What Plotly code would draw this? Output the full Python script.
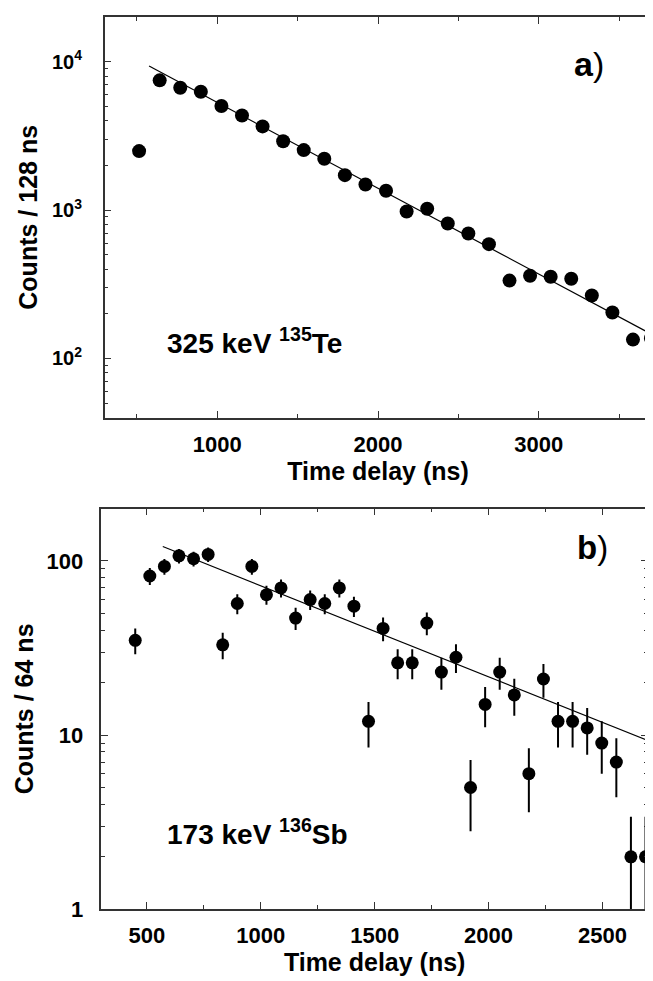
import plotly.graph_objects as go

# ---------------- data: panel a) 325 keV 135Te ----------------
te_time = [514, 642, 770, 898, 1026, 1154, 1282, 1410, 1538, 1666, 1794, 1922, 2050,
           2178, 2306, 2434, 2562, 2690, 2818, 2946, 3074, 3202, 3330, 3458, 3586, 3698]
te_counts = [2500, 7500, 6680, 6280, 5040, 4345, 3670, 2915, 2540, 2223, 1722, 1490, 1350,
             980, 1021, 812, 696, 590, 335, 361, 356, 345, 266, 204, 134, 137]
te_fit_time = [576, 3700]
te_fit_counts = [9360, 146]

# ---------------- data: panel b) 173 keV 136Sb ----------------
sb_time = [449, 513, 577, 641, 705, 769, 833, 897, 961, 1025, 1089, 1153, 1217, 1281,
           1345, 1409, 1473, 1537, 1601, 1665, 1729, 1793, 1857, 1921, 1985, 2049, 2113,
           2177, 2241, 2305, 2369, 2433, 2497, 2561, 2625, 2689]
sb_counts = [35, 82, 93, 107, 103, 109, 33, 57, 93, 64, 70, 47, 60, 57,
             70, 55, 12, 41, 26, 26, 44, 23, 28, 5, 15, 23, 17,
             6, 21, 12, 12, 11, 9, 7, 2, 2]
sb_err = [5.9, 9.1, 9.6, 10.3, 10.1, 10.4, 5.7, 7.5, 9.6, 8.0, 8.4, 6.9, 7.7, 7.5,
          8.4, 7.4, 3.5, 6.4, 5.1, 5.1, 6.6, 4.8, 5.3, 2.2, 3.9, 4.8, 4.1,
          2.4, 4.6, 3.5, 3.5, 3.3, 3.0, 2.6, 1.4, 1.4]
sb_fit_time = [570, 2700]
sb_fit_counts = [121, 9.3]

# tick labels
te_yticks = [100, 1000, 10000]
te_yticktext = ["10<sup>2</sup>", "10<sup>3</sup>", "10<sup>4</sup>"]
sb_yticks = [1, 10, 100]
sb_yticktext = ["1", "10", "100"]

FONT = "Liberation Sans, Arial, sans-serif"
W, H = 653, 981

def px_x(a, b):
    return [a / W, b / W]

def px_y(top, bottom):
    return [1 - bottom / H, 1 - top / H]

te_minor = [m * 10 ** e for e in range(1, 5) for m in range(2, 10)]
sb_minor = [m * 10 ** e for e in range(0, 3) for m in range(2, 10)]

fig = go.Figure()

fig.add_trace(go.Scatter(x=te_fit_time, y=te_fit_counts, mode="lines",
                         line=dict(color="black", width=1.2),
                         xaxis="x", yaxis="y", showlegend=False))
fig.add_trace(go.Scatter(x=te_time, y=te_counts, mode="markers",
                         marker=dict(color="black", size=14),
                         xaxis="x", yaxis="y", showlegend=False))

fig.add_trace(go.Scatter(x=sb_fit_time, y=sb_fit_counts, mode="lines",
                         line=dict(color="black", width=1.2),
                         xaxis="x2", yaxis="y2", showlegend=False))
fig.add_trace(go.Scatter(x=sb_time, y=sb_counts, mode="markers",
                         marker=dict(color="black", size=13),
                         error_y=dict(type="data", array=sb_err, visible=True,
                                      color="black", thickness=2, width=0),
                         xaxis="x2", yaxis="y2", showlegend=False))

axis_common = dict(showgrid=False, zeroline=False, showline=True, linecolor="#333",
                   linewidth=1.5, mirror="allticks", ticks="inside", ticklen=7,
                   tickwidth=1.2, tickcolor="#333",
                   tickfont=dict(family=FONT, size=22, color="black", weight="bold"))

title_font = dict(family=FONT, size=25, color="black", weight="bold")

fig.update_layout(
    width=W, height=H,
    margin=dict(l=0, r=0, t=0, b=0),
    paper_bgcolor="white", plot_bgcolor="white",
    xaxis=dict(axis_common, domain=px_x(96.7, 643.3), anchor="y",
               range=[300, 3700], tickvals=[1000, 2000, 3000],
               minor=dict(ticks="inside", ticklen=4, tickvals=[500, 1500, 2500, 3500],
                          tickcolor="#333", showgrid=False),
               ticklabelstandoff=6,
               title=dict(text="Time delay (ns)", font=title_font, standoff=2)),
    yaxis=dict(axis_common, domain=px_y(9.3, 415), anchor="x", type="log",
               range=[1.602, 4.301], tickvals=te_yticks, ticktext=te_yticktext,
               tickfont=dict(family=FONT, size=20, color="black", weight="bold"),
               minor=dict(ticks="inside", ticklen=4, tickvals=te_minor,
                          tickcolor="#333", showgrid=False),
               ticklabelstandoff=17,
               title=dict(text="Counts / 128 ns", font=title_font, standoff=7)),
    xaxis2=dict(axis_common, domain=px_x(93.3, 640), anchor="y2",
                range=[300, 2700], tickvals=[500, 1000, 1500, 2000, 2500],
                minor=dict(ticks="inside", ticklen=4, tickvals=[750, 1250, 1750, 2250],
                           tickcolor="#333", showgrid=False),
                ticklabelstandoff=6,
                title=dict(text="Time delay (ns)", font=title_font, standoff=2)),
    yaxis2=dict(axis_common, domain=px_y(507.3, 913.3), anchor="x2", type="log",
                range=[0, 2.301], tickvals=sb_yticks, ticktext=sb_yticktext,
                minor=dict(ticks="inside", ticklen=4, tickvals=sb_minor,
                           tickcolor="#333", showgrid=False),
                ticklabelstandoff=12,
                title=dict(text="Counts / 64 ns", font=title_font, standoff=6)),
)

ann_font = dict(family=FONT, size=28, color="black", weight="bold")
fig.add_annotation(text="325 keV <sup>135</sup>Te", xref="x domain", yref="y domain",
                   x=(157 - 96.7) / (643.3 - 96.7), y=(415 - 337) / (415 - 9.3),
                   xanchor="left", yanchor="middle", showarrow=False, font=ann_font)
fig.add_annotation(text="173 keV <sup>136</sup>Sb", xref="x2 domain", yref="y2 domain",
                   x=(157 - 93.3) / (640 - 93.3), y=(913.3 - 835) / (913.3 - 507.3),
                   xanchor="left", yanchor="middle", showarrow=False, font=ann_font)
fig.add_annotation(text="<b>a</b>)", xref="x domain", yref="y domain",
                   x=(564 - 96.7) / (643.3 - 96.7), y=(415 - 57) / (415 - 9.3),
                   xanchor="left", yanchor="middle", showarrow=False,
                   font=dict(family=FONT, size=34, color="black"))
fig.add_annotation(text="<b>b</b>)", xref="x2 domain", yref="y2 domain",
                   x=(567 - 93.3) / (640 - 93.3), y=(913.3 - 547) / (913.3 - 507.3),
                   xanchor="left", yanchor="middle", showarrow=False,
                   font=dict(family=FONT, size=33, color="black"))

fig.write_html("out.html")
